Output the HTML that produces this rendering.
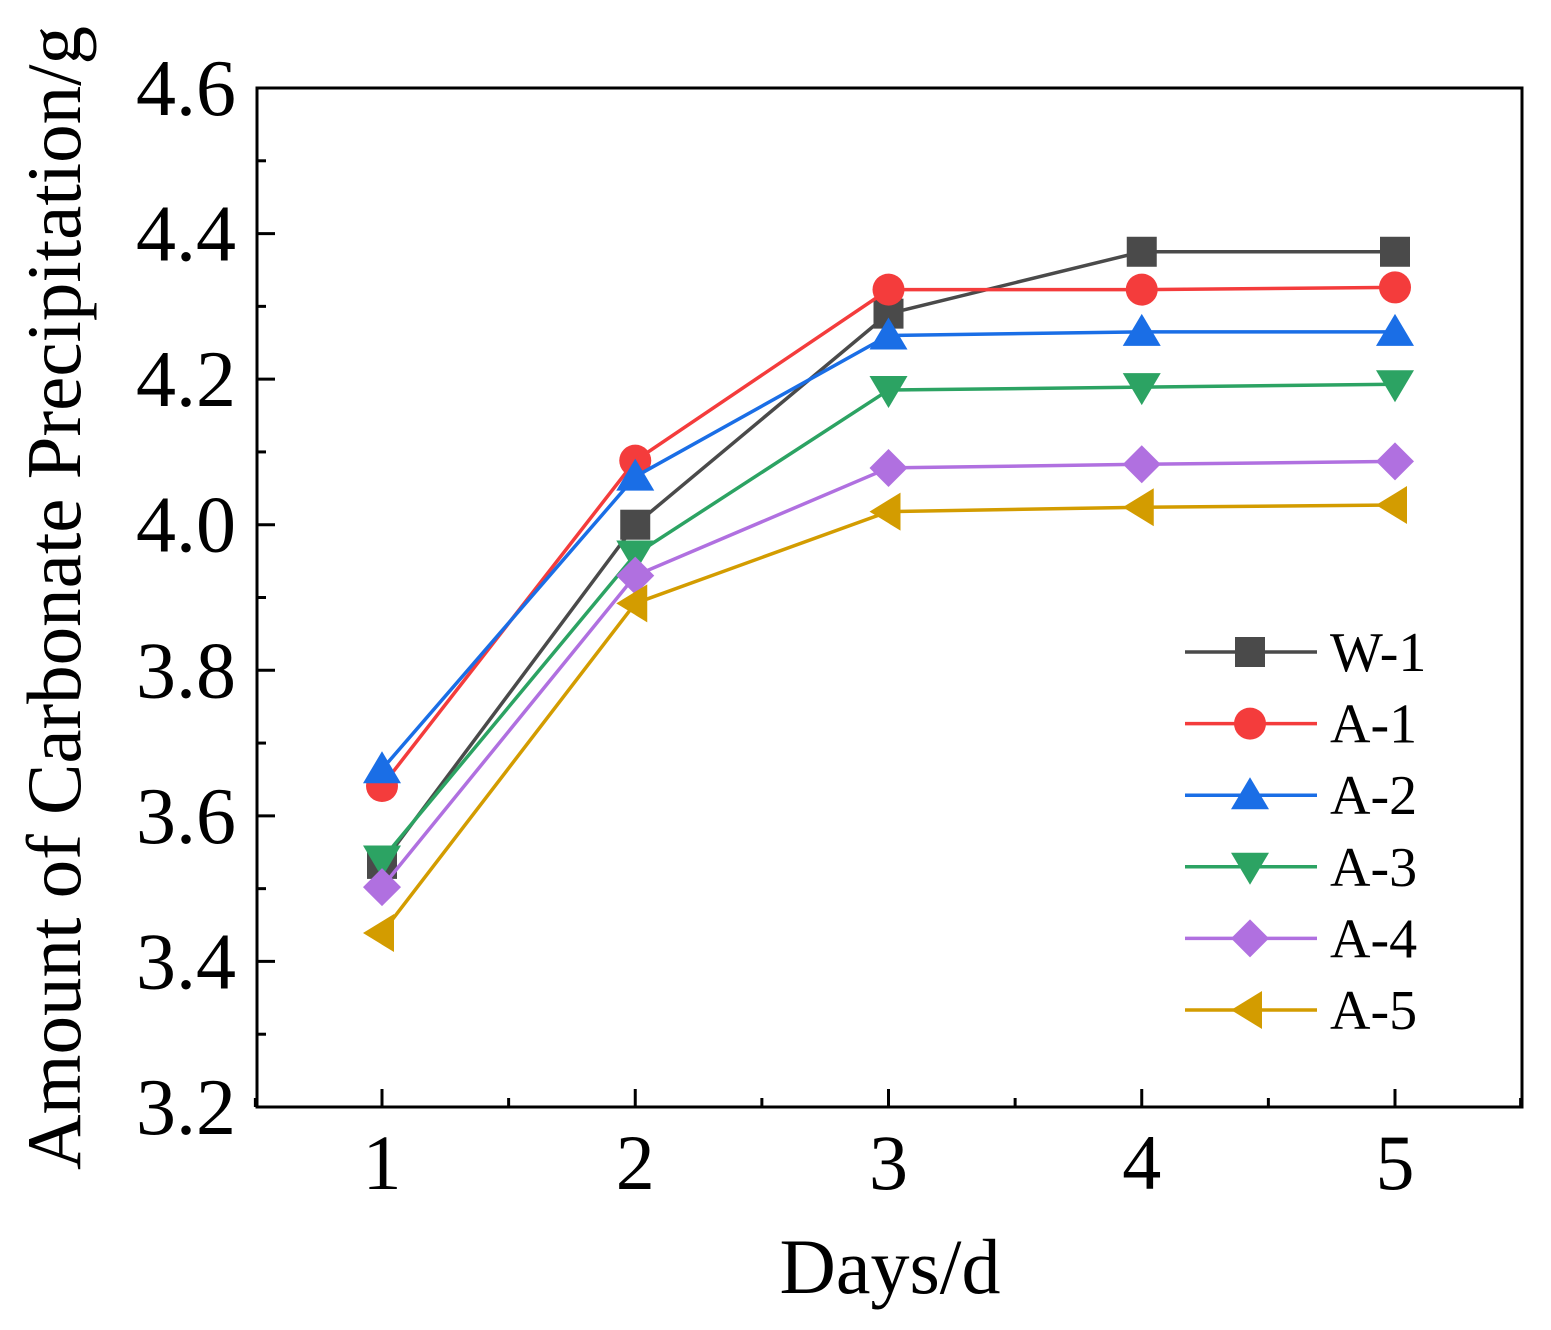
<!DOCTYPE html>
<html><head><meta charset="utf-8"><style>
body{margin:0;background:#fff}
svg text{font-family:"Liberation Serif",serif;fill:#000}
</style></head><body>
<svg id="chart" width="1551" height="1325" xmlns="http://www.w3.org/2000/svg">
<g id="marks"></g>
<rect x="257" y="88" width="1265" height="1019" fill="none" stroke="#000" stroke-width="3"/>
<g id="ticks"></g>
<text x="890" y="1293" font-size="78" text-anchor="middle">Days/d</text>
<text transform="translate(80,598) rotate(-90)" font-size="77" text-anchor="middle">Amount of Carbonate Precipitation/g</text>
<g id="legend"></g>
</svg>
<script>
const days=[1,2,3,4,5];
const yTicks=[3.2,3.4,3.6,3.8,4.0,4.2,4.4,4.6];
const seriesNames=["W-1","A-1","A-2","A-3","A-4","A-5"];
const w1=[3.534,4.0,4.29,4.375,4.375];
const a1=[3.641,4.088,4.323,4.323,4.326];
const a2=[3.664,4.066,4.26,4.265,4.265];
const a3=[3.54,3.959,4.185,4.189,4.193];
const a4=[3.502,3.930,4.078,4.083,4.087];
const a5=[3.439,3.892,4.018,4.024,4.027];
const seriesValues=[w1,a1,a2,a3,a4,a5];
const colors=["#4a4a4a","#f43c3c","#1a6ee6","#2ca363","#b070e0","#d39c00"];
const shapes=["square","circle","up","down","diamond","left"];
const X=v=>382+(v-1)*253.25;
const Y=v=>1107-(v-3.2)*(1019/1.4);
const NS="http://www.w3.org/2000/svg";
function mk(tag,attrs,parent){const e=document.createElementNS(NS,tag);for(const k in attrs)e.setAttribute(k,attrs[k]);parent.appendChild(e);return e;}
function marker(shape,cx,cy,color,parent){
  const s=15;let e;
  if(shape==="square")e=mk("rect",{x:cx-s,y:cy-s,width:2*s,height:2*s,fill:color},parent);
  else if(shape==="circle")e=mk("circle",{cx:cx,cy:cy,r:16,fill:color},parent);
  else if(shape==="up")e=mk("polygon",{points:`${cx},${cy-18} ${cx+19},${cy+14} ${cx-19},${cy+14}`,fill:color},parent);
  else if(shape==="down")e=mk("polygon",{points:`${cx},${cy+18} ${cx+19},${cy-14} ${cx-19},${cy-14}`,fill:color},parent);
  else if(shape==="diamond")e=mk("polygon",{points:`${cx},${cy-19} ${cx+19},${cy} ${cx},${cy+19} ${cx-19},${cy}`,fill:color},parent);
  else e=mk("polygon",{points:`${cx-19},${cy} ${cx+12},${cy-19} ${cx+12},${cy+19}`,fill:color},parent);
  return e;
}
const marks=document.getElementById("marks");
seriesValues.forEach((vals,i)=>{
  const g=mk("g",{},marks);
  
  
  const pl=mk("polyline",{points:vals.map((v,j)=>X(days[j])+","+Y(v)).join(" "),fill:"none",stroke:colors[i],"stroke-width":3.5},g);
  
  
  vals.forEach((v,j)=>{
    const m=marker(shapes[i],X(days[j]),Y(v),colors[i],g);
    
    
  });
});
const ticks=document.getElementById("ticks");
days.forEach(d=>{
  mk("line",{x1:X(d),x2:X(d),y1:1107,y2:1089,stroke:"#000","stroke-width":3},ticks);
  if(d<5)mk("line",{x1:X(d+0.5),x2:X(d+0.5),y1:1107,y2:1098,stroke:"#000","stroke-width":3},ticks);
  const t=mk("text",{x:X(d),y:1189,"font-size":78,"text-anchor":"middle"},ticks);
  t.textContent=d;
  
  
});
mk("line",{x1:X(0.5),x2:X(0.5),y1:1107,y2:1098,stroke:"#000","stroke-width":3},ticks);
mk("line",{x1:X(5.5)-1,x2:X(5.5)-1,y1:1107,y2:1098,stroke:"#000","stroke-width":3},ticks);
yTicks.forEach((v,i)=>{
  mk("line",{x1:257,x2:275,y1:Y(v),y2:Y(v),stroke:"#000","stroke-width":3},ticks);
  if(i<yTicks.length-1)mk("line",{x1:257,x2:266,y1:Y(v+0.1),y2:Y(v+0.1),stroke:"#000","stroke-width":3},ticks);
  const t=mk("text",{x:236,y:Y(v)+27,"font-size":80,"text-anchor":"end"},ticks);
  t.textContent=v.toFixed(1);
  
  
});
const legend=document.getElementById("legend");
seriesNames.forEach((n,i)=>{
  const y=652+i*71.6;
  const g=mk("g",{},legend);
  
  
  mk("line",{x1:1185,x2:1317,y1:y,y2:y,stroke:colors[i],"stroke-width":3.5},g);
  marker(shapes[i],1250,y,colors[i],g);
  const t=mk("text",{x:1330,y:y+19,"font-size":56},g);
  t.textContent=n;
});
</script>
</body></html>
